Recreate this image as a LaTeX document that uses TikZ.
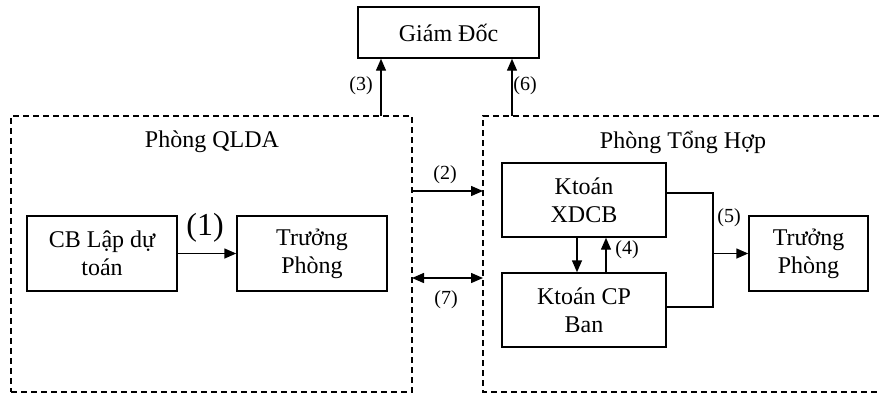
\documentclass[tikz,border=0pt]{standalone}
\usepackage{fontspec}
\setmainfont{Liberation Serif}
\usepackage{tikz}
\usetikzlibrary{arrows.meta}

\begin{document}
\begin{tikzpicture}[x=0.75pt,y=-0.75pt,
    box/.style={draw,line width=1.1pt,align=center,font=\fontsize{18}{21}\selectfont,inner sep=0pt},
    frame/.style={line width=1.1pt,dash pattern=on 4.5pt off 3pt},
    lbl/.style={font=\fontsize{15}{17}\selectfont,inner sep=0pt},
    >={Triangle[length=9pt,width=7.5pt]}]
  \useasboundingbox (0,0) rectangle (879,394);

  % Boxes
  \node[box,minimum width=135.75pt,minimum height=38.25pt] (boss) at (448.5,32.5) {Giám Đốc};
  \node[frame,draw,minimum width=300.75pt,minimum height=207pt,inner sep=0pt] (qlda) at (211.5,254) {};
  \draw[frame] (879,116) -| (483,392) -- (879,392);
  \node[font=\fontsize{18}{21}\selectfont] (qldat) at (212,142) {Phòng QLDA};
  \node[font=\fontsize{18}{21}\selectfont] (tht) at (683,142) {Phòng Tổng Hợp};

  \node[box,minimum width=112.5pt,minimum height=56.25pt] (cb) at (102,253.5) {CB Lập dự\\toán};
  \node[box,minimum width=112.5pt,minimum height=56.25pt] (tp1) at (312,253.5) {Trưởng\\Phòng};
  \node[box,minimum width=123pt,minimum height=55.5pt] (xdcb) at (584,200) {Ktoán\\XDCB};
  \node[box,minimum width=123pt,minimum height=55.5pt] (cpban) at (584,310) {Ktoán CP\\Ban};
  \node[box,minimum width=89.25pt,minimum height=56.25pt] (tp2) at (808.5,253.5) {Trưởng\\Phòng};

  % Connector ends
  \coordinate (q3) at (381,116);
  \coordinate (q6) at (512,116);
  \coordinate (a2) at (412,191);
  \coordinate (b2) at (483,191);
  \coordinate (a7) at (412,278);
  \coordinate (b7) at (483,278);
  \coordinate (jtop) at (713,193);
  \coordinate (jbot) at (713,307);

  % Arrows
  \draw[->,line width=1.1pt] (cb.east) -- (tp1.west);
  \draw[->,line width=1.1pt] (q3) -- (q3 |- boss.south);
  \draw[->,line width=1.1pt] (q6) -- (q6 |- boss.south);
  \draw[->,line width=1.1pt] (a2) -- (b2);
  \draw[<->,line width=1.1pt] (a7) -- (b7);
  \draw[->,line width=1.1pt] ([xshift=-5.25pt]xdcb.south) -- ([xshift=-5.25pt]cpban.north);
  \draw[->,line width=1.1pt] ([xshift=16.5pt]cpban.north) -- ([xshift=16.5pt]xdcb.south);
  \draw[line width=1.1pt] (xdcb.east |- jtop) -- (jtop) -- (jbot) -- (cpban.east |- jbot);
  \draw[->,line width=1.1pt] (jtop |- tp2.west) -- (tp2.west);

  % Labels
  \node[font=\fontsize{24}{26}\selectfont,inner sep=0pt] (l1) at (205,228) {(1)};
  \node[lbl] (l2) at (445,175) {(2)};
  \node[lbl] (l3) at (361,86) {(3)};
  \node[lbl] (l4) at (627,250) {(4)};
  \node[lbl] (l5) at (729,218) {(5)};
  \node[lbl] (l6) at (525,86) {(6)};
  \node[lbl] (l7) at (446,300) {(7)};
\end{tikzpicture}
\end{document}
